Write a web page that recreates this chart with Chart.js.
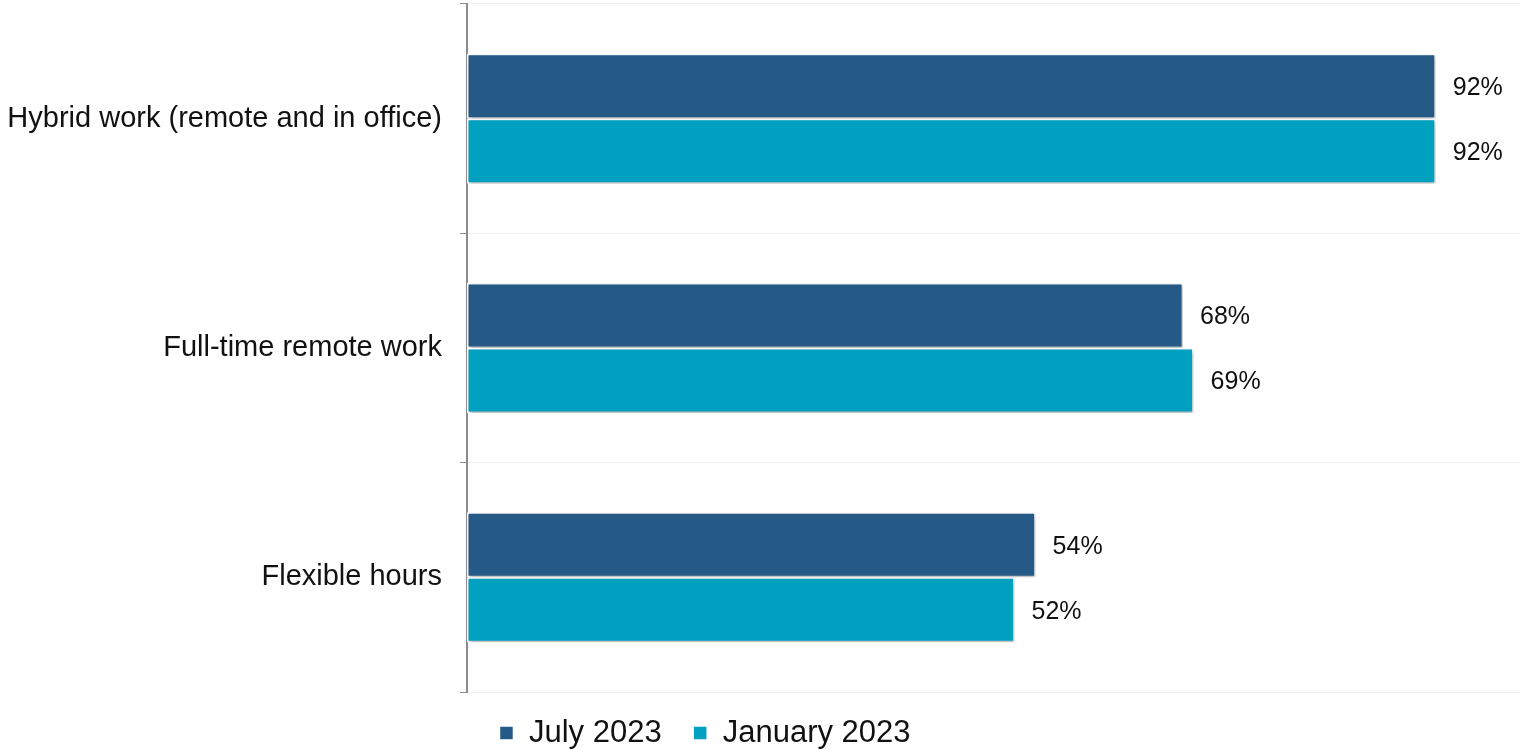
<!DOCTYPE html>
<html>
<head>
    <title>Work arrangements</title>
    <script src="https://cdn.jsdelivr.net/npm/chart.js@4.4.1/dist/chart.umd.min.js"></script>
    <style>
        body { margin: 0; background: #ffffff; }
        canvas { display: block; }
    </style>
</head>

<body>
<canvas id="myChart" width="1520" height="750"></canvas>

<script>
// chart data
var categories = ['Hybrid work (remote and in office)', 'Full-time remote work', 'Flexible hours'];
var seriesNames = ['July 2023', 'January 2023'];
var july2023 = [92, 68, 54];
var january2023 = [92, 69, 52];

var FONT = "'Liberation Sans', Arial, sans-serif";
var LEGEND_SHIFT_X = -55;
var LEGEND_SHIFT_Y = -6;

// prints "NN%" just past the end of each bar
var valueLabels = {
    id: 'valueLabels',
    afterDatasetsDraw: function(chart) {
        var ctx = chart.ctx;
        ctx.save();
        ctx.font = '25px ' + FONT;
        ctx.fillStyle = '#111111';
        ctx.textAlign = 'left';
        ctx.textBaseline = 'middle';
        chart.data.datasets.forEach(function(ds, i) {
            chart.getDatasetMeta(i).data.forEach(function(bar, j) {
                ctx.fillText(ds.data[j] + '%', bar.x + 17, bar.y + 2);
            });
        });
        ctx.restore();
    }
};

// soft drop shadow under the bars
var barShadow = {
    id: 'barShadow',
    beforeDatasetsDraw: function(chart) {
        var ctx = chart.ctx;
        ctx.save();
        ctx.shadowColor = 'rgba(0,0,0,0.3)';
        ctx.shadowBlur = 4;
        ctx.shadowOffsetX = 1;
        ctx.shadowOffsetY = 2;
    },
    afterDatasetsDraw: function(chart) {
        chart.ctx.restore();
    }
};

// legend sits a bit left of the canvas centre, close under the plot
// (only the top moves up, so the legend clip box still reaches the bottom edge)
var legendOffset = {
    id: 'legendOffset',
    afterLayout: function(chart) {
        var lg = chart.legend;
        lg.left += LEGEND_SHIFT_X;
        lg.right += LEGEND_SHIFT_X;
        lg.top += LEGEND_SHIFT_Y;
    }
};

var ctx = document.getElementById('myChart').getContext('2d');
var myChart = new Chart(ctx, {
    type: 'bar',
    data: {
        labels: categories,
        datasets: [{
            label: seriesNames[0],
            data: july2023,
            backgroundColor: '#255a86',
            borderColor: '#ffffff',
            borderWidth: 1.5,
            borderSkipped: false
        }, {
            label: seriesNames[1],
            data: january2023,
            backgroundColor: '#00a0c0',
            borderColor: '#ffffff',
            borderWidth: 1.5,
            borderSkipped: false
        }]
    },
    options: {
        indexAxis: 'y',
        responsive: false,
        animation: false,
        devicePixelRatio: 1,
        categoryPercentage: 0.567,
        barPercentage: 1.0,
        layout: { padding: { top: 4, left: 0, right: 0, bottom: 0 } },
        scales: {
            x: {
                display: false,
                min: 0,
                max: 100
            },
            y: {
                afterFit: function(scale) {
                    scale.width = 467;
                    scale.paddingTop = 0;
                    scale.paddingBottom = 0;
                },
                grid: {
                    color: '#eeeeee',
                    tickColor: '#8a8a8a',
                    tickLength: 7,
                    lineWidth: 1
                },
                border: { color: '#8a8a8a', width: 2 },
                ticks: {
                    padding: 18,
                    color: '#111111',
                    font: { family: FONT, size: 29 }
                }
            }
        },
        plugins: {
            legend: {
                position: 'bottom',
                maxHeight: 58,
                labels: {
                    boxWidth: 14,
                    boxHeight: 14,
                    padding: 31.5,
                    color: '#111111',
                    font: { family: FONT, size: 31, lineHeight: 1 }
                }
            },
            tooltip: { enabled: false }
        }
    },
    plugins: [barShadow, valueLabels, legendOffset]
});
</script>

</body>
</html>
